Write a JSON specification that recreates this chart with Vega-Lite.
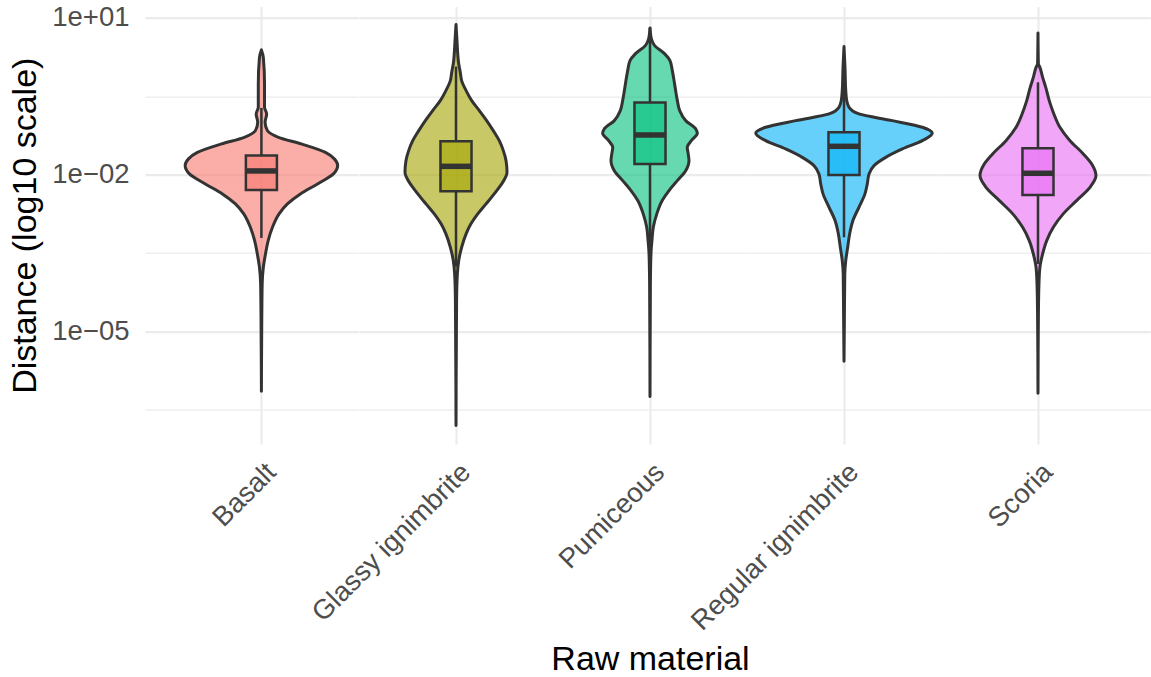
{
  "$schema": "https://vega.github.io/schema/vega-lite/v6.json",
  "background": "white",
  "padding": {"left": 8, "top": 3.6, "right": 0, "bottom": 0},
  "spacing": 0,
  "bounds": "flush",
  "data": {"values": [
    {"m":"Basalt","d":2.44,"lo":0,"hi":0},{"m":"Basalt","d":1.76,"lo":-0.01,"hi":0.01},{"m":"Basalt","d":0.545,"lo":-0.016,"hi":0.016},{"m":"Basalt","d":0.194,"lo":-0.016,"hi":0.016},{"m":"Basalt","d":0.145,"lo":-0.027,"hi":0.027},{"m":"Basalt","d":0.1,"lo":-0.019,"hi":0.019},{"m":"Basalt","d":0.0695,"lo":-0.031,"hi":0.031},{"m":"Basalt","d":0.0518,"lo":-0.088,"hi":0.088},{"m":"Basalt","d":0.0387,"lo":-0.206,"hi":0.206},{"m":"Basalt","d":0.0267,"lo":-0.33,"hi":0.33},{"m":"Basalt","d":0.02,"lo":-0.376,"hi":0.376},{"m":"Basalt","d":0.0149,"lo":-0.393,"hi":0.393},{"m":"Basalt","d":0.0103,"lo":-0.371,"hi":0.371},{"m":"Basalt","d":0.00663,"lo":-0.289,"hi":0.289},{"m":"Basalt","d":0.00427,"lo":-0.201,"hi":0.201},{"m":"Basalt","d":0.00275,"lo":-0.134,"hi":0.134},{"m":"Basalt","d":0.00177,"lo":-0.091,"hi":0.091},{"m":"Basalt","d":0.00098,"lo":-0.057,"hi":0.057},{"m":"Basalt","d":0.000545,"lo":-0.035,"hi":0.035},{"m":"Basalt","d":0.000303,"lo":-0.021,"hi":0.021},{"m":"Basalt","d":0.000168,"lo":-0.01,"hi":0.01},{"m":"Basalt","d":0.0000807,"lo":-0.004,"hi":0.004},{"m":"Basalt","d":0.0000186,"lo":-0.002,"hi":0.002},{"m":"Basalt","d":0.00000071,"lo":0,"hi":0},
    {"m":"Glassy ignimbrite","d":7.44,"lo":0,"hi":0},{"m":"Glassy ignimbrite","d":3.68,"lo":-0.005,"hi":0.005},{"m":"Glassy ignimbrite","d":1.32,"lo":-0.014,"hi":0.014},{"m":"Glassy ignimbrite","d":0.909,"lo":-0.022,"hi":0.022},{"m":"Glassy ignimbrite","d":0.63,"lo":-0.029,"hi":0.029},{"m":"Glassy ignimbrite","d":0.406,"lo":-0.052,"hi":0.052},{"m":"Glassy ignimbrite","d":0.261,"lo":-0.081,"hi":0.081},{"m":"Glassy ignimbrite","d":0.168,"lo":-0.12,"hi":0.12},{"m":"Glassy ignimbrite","d":0.108,"lo":-0.158,"hi":0.158},{"m":"Glassy ignimbrite","d":0.0695,"lo":-0.192,"hi":0.192},{"m":"Glassy ignimbrite","d":0.0447,"lo":-0.223,"hi":0.223},{"m":"Glassy ignimbrite","d":0.0288,"lo":-0.244,"hi":0.244},{"m":"Glassy ignimbrite","d":0.0185,"lo":-0.258,"hi":0.258},{"m":"Glassy ignimbrite","d":0.01106,"lo":-0.263,"hi":0.263},{"m":"Glassy ignimbrite","d":0.00712,"lo":-0.241,"hi":0.241},{"m":"Glassy ignimbrite","d":0.00458,"lo":-0.203,"hi":0.203},{"m":"Glassy ignimbrite","d":0.00275,"lo":-0.155,"hi":0.155},{"m":"Glassy ignimbrite","d":0.00177,"lo":-0.112,"hi":0.112},{"m":"Glassy ignimbrite","d":0.00114,"lo":-0.077,"hi":0.077},{"m":"Glassy ignimbrite","d":0.000732,"lo":-0.052,"hi":0.052},{"m":"Glassy ignimbrite","d":0.000406,"lo":-0.029,"hi":0.029},{"m":"Glassy ignimbrite","d":0.000226,"lo":-0.014,"hi":0.014},{"m":"Glassy ignimbrite","d":0.000125,"lo":-0.007,"hi":0.007},{"m":"Glassy ignimbrite","d":0.0000387,"lo":-0.003,"hi":0.003},{"m":"Glassy ignimbrite","d":0.000000157,"lo":0,"hi":0},
    {"m":"Pumiceous","d":6.43,"lo":0,"hi":0},{"m":"Pumiceous","d":3.96,"lo":-0.007,"hi":0.007},{"m":"Pumiceous","d":2.95,"lo":-0.024,"hi":0.024},{"m":"Pumiceous","d":2.05,"lo":-0.076,"hi":0.076},{"m":"Pumiceous","d":1.52,"lo":-0.103,"hi":0.103},{"m":"Pumiceous","d":0.98,"lo":-0.115,"hi":0.115},{"m":"Pumiceous","d":0.63,"lo":-0.124,"hi":0.124},{"m":"Pumiceous","d":0.406,"lo":-0.132,"hi":0.132},{"m":"Pumiceous","d":0.261,"lo":-0.141,"hi":0.141},{"m":"Pumiceous","d":0.168,"lo":-0.153,"hi":0.153},{"m":"Pumiceous","d":0.108,"lo":-0.184,"hi":0.184},{"m":"Pumiceous","d":0.0748,"lo":-0.236,"hi":0.236},{"m":"Pumiceous","d":0.0618,"lo":-0.244,"hi":0.244},{"m":"Pumiceous","d":0.0447,"lo":-0.213,"hi":0.213},{"m":"Pumiceous","d":0.0333,"lo":-0.192,"hi":0.192},{"m":"Pumiceous","d":0.0249,"lo":-0.197,"hi":0.197},{"m":"Pumiceous","d":0.0185,"lo":-0.201,"hi":0.201},{"m":"Pumiceous","d":0.0119,"lo":-0.184,"hi":0.184},{"m":"Pumiceous","d":0.00767,"lo":-0.141,"hi":0.141},{"m":"Pumiceous","d":0.00493,"lo":-0.098,"hi":0.098},{"m":"Pumiceous","d":0.00318,"lo":-0.063,"hi":0.063},{"m":"Pumiceous","d":0.00177,"lo":-0.035,"hi":0.035},{"m":"Pumiceous","d":0.00098,"lo":-0.017,"hi":0.017},{"m":"Pumiceous","d":0.000545,"lo":-0.01,"hi":0.01},{"m":"Pumiceous","d":0.000303,"lo":-0.005,"hi":0.005},{"m":"Pumiceous","d":0.0000807,"lo":-0.002,"hi":0.002},{"m":"Pumiceous","d":0.000000562,"lo":0,"hi":0},
    {"m":"Regular ignimbrite","d":2.82,"lo":0,"hi":0},{"m":"Regular ignimbrite","d":1.13,"lo":-0.005,"hi":0.005},{"m":"Regular ignimbrite","d":0.406,"lo":-0.009,"hi":0.009},{"m":"Regular ignimbrite","d":0.261,"lo":-0.014,"hi":0.014},{"m":"Regular ignimbrite","d":0.194,"lo":-0.026,"hi":0.026},{"m":"Regular ignimbrite","d":0.145,"lo":-0.077,"hi":0.077},{"m":"Regular ignimbrite","d":0.108,"lo":-0.249,"hi":0.249},{"m":"Regular ignimbrite","d":0.0805,"lo":-0.404,"hi":0.404},{"m":"Regular ignimbrite","d":0.0618,"lo":-0.455,"hi":0.455},{"m":"Regular ignimbrite","d":0.0447,"lo":-0.404,"hi":0.404},{"m":"Regular ignimbrite","d":0.031,"lo":-0.301,"hi":0.301},{"m":"Regular ignimbrite","d":0.0214,"lo":-0.215,"hi":0.215},{"m":"Regular ignimbrite","d":0.0149,"lo":-0.155,"hi":0.155},{"m":"Regular ignimbrite","d":0.0103,"lo":-0.129,"hi":0.129},{"m":"Regular ignimbrite","d":0.00663,"lo":-0.12,"hi":0.12},{"m":"Regular ignimbrite","d":0.00427,"lo":-0.108,"hi":0.108},{"m":"Regular ignimbrite","d":0.00237,"lo":-0.077,"hi":0.077},{"m":"Regular ignimbrite","d":0.00132,"lo":-0.046,"hi":0.046},{"m":"Regular ignimbrite","d":0.000732,"lo":-0.029,"hi":0.029},{"m":"Regular ignimbrite","d":0.000406,"lo":-0.019,"hi":0.019},{"m":"Regular ignimbrite","d":0.000226,"lo":-0.009,"hi":0.009},{"m":"Regular ignimbrite","d":0.000125,"lo":-0.004,"hi":0.004},{"m":"Regular ignimbrite","d":0.0000186,"lo":-0.002,"hi":0.002},{"m":"Regular ignimbrite","d":0.00000266,"lo":0,"hi":0},
    {"m":"Scoria","d":5.16,"lo":0,"hi":0},{"m":"Scoria","d":1.32,"lo":-0.002,"hi":0.002},{"m":"Scoria","d":1.13,"lo":-0.01,"hi":0.01},{"m":"Scoria","d":0.729,"lo":-0.024,"hi":0.024},{"m":"Scoria","d":0.469,"lo":-0.04,"hi":0.04},{"m":"Scoria","d":0.261,"lo":-0.058,"hi":0.058},{"m":"Scoria","d":0.145,"lo":-0.082,"hi":0.082},{"m":"Scoria","d":0.0805,"lo":-0.113,"hi":0.113},{"m":"Scoria","d":0.0447,"lo":-0.165,"hi":0.165},{"m":"Scoria","d":0.0249,"lo":-0.234,"hi":0.234},{"m":"Scoria","d":0.016,"lo":-0.277,"hi":0.277},{"m":"Scoria","d":0.00957,"lo":-0.299,"hi":0.299},{"m":"Scoria","d":0.00571,"lo":-0.268,"hi":0.268},{"m":"Scoria","d":0.00318,"lo":-0.199,"hi":0.199},{"m":"Scoria","d":0.00177,"lo":-0.13,"hi":0.13},{"m":"Scoria","d":0.00098,"lo":-0.079,"hi":0.079},{"m":"Scoria","d":0.000545,"lo":-0.045,"hi":0.045},{"m":"Scoria","d":0.000303,"lo":-0.024,"hi":0.024},{"m":"Scoria","d":0.000168,"lo":-0.01,"hi":0.01},{"m":"Scoria","d":0.0000807,"lo":-0.005,"hi":0.005},{"m":"Scoria","d":0.0000186,"lo":-0.002,"hi":0.002},{"m":"Scoria","d":0.00000065,"lo":0,"hi":0},
    {"m":"Basalt","wlo":0.000613,"q1":0.00509,"med":0.01175,"q3":0.0231,"whi":0.189},
    {"m":"Glassy ignimbrite","wlo":0.000174,"q1":0.00479,"med":0.0144,"q3":0.0434,"whi":1.17},
    {"m":"Pumiceous","wlo":0.0003,"q1":0.016,"med":0.0574,"q3":0.239,"whi":6.43},
    {"m":"Regular ignimbrite","wlo":0.000631,"q1":0.00986,"med":0.0348,"q3":0.0645,"whi":1.0},
    {"m":"Scoria","wlo":0.000195,"q1":0.00408,"med":0.0106,"q3":0.0319,"whi":0.585}
  ]},
  "hconcat": [
    {
      "width": 213.4, "height": 437.3,
      "transform": [{"filter": "datum.m === 'Basalt'"}],
      "layer": [
        {"transform": [{"filter": "isValid(datum.d)"}],
         "mark": {"type": "area", "orient": "horizontal", "interpolate": "monotone", "stroke": "#333333", "strokeWidth": 3, "strokeJoin": "round", "fillOpacity": 0.6},
         "encoding": {
           "y": {"field": "d", "type": "quantitative", "scale": {"type": "log", "domain": [6.99e-8, 16.46], "nice": false, "zero": false},
                 "axis": {"values": [10, 0.316227766, 0.01, 0.000316227766, 0.00001, 3.16227766e-7], "labelExpr": "datum.value == 10 ? '1e+01' : datum.value == 0.01 ? '1e−02' : datum.value == 0.00001 ? '1e−05' : ''", "labelOverlap": false, "labelPadding": 16, "title": "Distance (log10 scale)", "titlePadding": 9.7, "gridWidth": {"condition": {"test": "indexof([10, 0.01, 0.00001], datum.value) >= 0", "value": 2.1}, "value": 1.1}}},
           "x": {"field": "lo", "type": "quantitative", "scale": {"domain": [-0.6, 0.5], "nice": false, "zero": false},
                 "axis": {"values": [0], "labelExpr": "'Basalt'", "labelAngle": -45, "labelAlign": "right", "labelBaseline": "top", "labelPadding": 14, "gridWidth": 2.1, "title": null}},
           "x2": {"field": "hi"},
           "fill": {"field": "m", "type": "nominal", "scale": {"domain": ["Basalt", "Glassy ignimbrite", "Pumiceous", "Regular ignimbrite", "Scoria"], "range": ["#F8766D", "#A3A500", "#00BF7D", "#00B0F6", "#E76BF3"]}, "legend": null}
         }},
        {"transform": [{"filter": "isValid(datum.q1)"}],
         "mark": {"type": "rule", "stroke": "#333333", "strokeWidth": 2.5},
         "encoding": {"x": {"datum": 0, "type": "quantitative"}, "y": {"field": "wlo", "type": "quantitative", "scale": {"type": "log"}}, "y2": {"field": "q1"}}},
        {"transform": [{"filter": "isValid(datum.q1)"}],
         "mark": {"type": "rule", "stroke": "#333333", "strokeWidth": 2.5},
         "encoding": {"x": {"datum": 0, "type": "quantitative"}, "y": {"field": "q3", "type": "quantitative", "scale": {"type": "log"}}, "y2": {"field": "whi"}}},
        {"transform": [{"filter": "isValid(datum.q1)"}],
         "mark": {"type": "rect", "stroke": "#333333", "strokeWidth": 2.5, "fillOpacity": 0.6},
         "encoding": {"x": {"datum": -0.08, "type": "quantitative"}, "x2": {"datum": 0.08}, "y": {"field": "q1", "type": "quantitative", "scale": {"type": "log"}}, "y2": {"field": "q3"},
           "fill": {"field": "m", "type": "nominal", "scale": {"domain": ["Basalt", "Glassy ignimbrite", "Pumiceous", "Regular ignimbrite", "Scoria"], "range": ["#F8766D", "#A3A500", "#00BF7D", "#00B0F6", "#E76BF3"]}, "legend": null}}},
        {"transform": [{"filter": "isValid(datum.q1)"}],
         "mark": {"type": "rule", "stroke": "#333333", "strokeWidth": 5.5},
         "encoding": {"x": {"datum": -0.08, "type": "quantitative"}, "x2": {"datum": 0.08}, "y": {"field": "med", "type": "quantitative", "scale": {"type": "log"}}}}
      ]
    },
    {
      "width": 194, "height": 437.3,
      "transform": [{"filter": "datum.m === 'Glassy ignimbrite'"}],
      "layer": [
        {"transform": [{"filter": "isValid(datum.d)"}],
         "mark": {"type": "area", "orient": "horizontal", "interpolate": "monotone", "stroke": "#333333", "strokeWidth": 3, "strokeJoin": "round", "fillOpacity": 0.6},
         "encoding": {
           "y": {"field": "d", "type": "quantitative", "scale": {"type": "log", "domain": [6.99e-8, 16.46], "nice": false, "zero": false},
                 "axis": {"values": [10, 0.316227766, 0.01, 0.000316227766, 0.00001, 3.16227766e-7], "labels": false, "title": null, "gridWidth": {"condition": {"test": "indexof([10, 0.01, 0.00001], datum.value) >= 0", "value": 2.1}, "value": 1.1}}},
           "x": {"field": "lo", "type": "quantitative", "scale": {"domain": [-0.5, 0.5], "nice": false, "zero": false},
                 "axis": {"values": [0], "labelExpr": "'Glassy ignimbrite'", "labelAngle": -45, "labelAlign": "right", "labelBaseline": "top", "labelPadding": 14, "gridWidth": 2.1, "title": null}},
           "x2": {"field": "hi"},
           "fill": {"field": "m", "type": "nominal", "scale": {"domain": ["Basalt", "Glassy ignimbrite", "Pumiceous", "Regular ignimbrite", "Scoria"], "range": ["#F8766D", "#A3A500", "#00BF7D", "#00B0F6", "#E76BF3"]}, "legend": null}
         }},
        {"transform": [{"filter": "isValid(datum.q1)"}],
         "mark": {"type": "rule", "stroke": "#333333", "strokeWidth": 2.5},
         "encoding": {"x": {"datum": 0, "type": "quantitative"}, "y": {"field": "wlo", "type": "quantitative", "scale": {"type": "log"}}, "y2": {"field": "q1"}}},
        {"transform": [{"filter": "isValid(datum.q1)"}],
         "mark": {"type": "rule", "stroke": "#333333", "strokeWidth": 2.5},
         "encoding": {"x": {"datum": 0, "type": "quantitative"}, "y": {"field": "q3", "type": "quantitative", "scale": {"type": "log"}}, "y2": {"field": "whi"}}},
        {"transform": [{"filter": "isValid(datum.q1)"}],
         "mark": {"type": "rect", "stroke": "#333333", "strokeWidth": 2.5, "fillOpacity": 0.6},
         "encoding": {"x": {"datum": -0.08, "type": "quantitative"}, "x2": {"datum": 0.08}, "y": {"field": "q1", "type": "quantitative", "scale": {"type": "log"}}, "y2": {"field": "q3"},
           "fill": {"field": "m", "type": "nominal", "scale": {"domain": ["Basalt", "Glassy ignimbrite", "Pumiceous", "Regular ignimbrite", "Scoria"], "range": ["#F8766D", "#A3A500", "#00BF7D", "#00B0F6", "#E76BF3"]}, "legend": null}}},
        {"transform": [{"filter": "isValid(datum.q1)"}],
         "mark": {"type": "rule", "stroke": "#333333", "strokeWidth": 5.5},
         "encoding": {"x": {"datum": -0.08, "type": "quantitative"}, "x2": {"datum": 0.08}, "y": {"field": "med", "type": "quantitative", "scale": {"type": "log"}}}}
      ]
    },
    {
      "width": 194, "height": 437.3,
      "transform": [{"filter": "datum.m === 'Pumiceous'"}],
      "layer": [
        {"transform": [{"filter": "isValid(datum.d)"}],
         "mark": {"type": "area", "orient": "horizontal", "interpolate": "monotone", "stroke": "#333333", "strokeWidth": 3, "strokeJoin": "round", "fillOpacity": 0.6},
         "encoding": {
           "y": {"field": "d", "type": "quantitative", "scale": {"type": "log", "domain": [6.99e-8, 16.46], "nice": false, "zero": false},
                 "axis": {"values": [10, 0.316227766, 0.01, 0.000316227766, 0.00001, 3.16227766e-7], "labels": false, "title": null, "gridWidth": {"condition": {"test": "indexof([10, 0.01, 0.00001], datum.value) >= 0", "value": 2.1}, "value": 1.1}}},
           "x": {"field": "lo", "type": "quantitative", "scale": {"domain": [-0.5, 0.5], "nice": false, "zero": false},
                 "axis": {"values": [0], "labelExpr": "'Pumiceous'", "labelAngle": -45, "labelAlign": "right", "labelBaseline": "top", "labelPadding": 14, "gridWidth": 2.1, "title": "Raw material", "titlePadding": 69}},
           "x2": {"field": "hi"},
           "fill": {"field": "m", "type": "nominal", "scale": {"domain": ["Basalt", "Glassy ignimbrite", "Pumiceous", "Regular ignimbrite", "Scoria"], "range": ["#F8766D", "#A3A500", "#00BF7D", "#00B0F6", "#E76BF3"]}, "legend": null}
         }},
        {"transform": [{"filter": "isValid(datum.q1)"}],
         "mark": {"type": "rule", "stroke": "#333333", "strokeWidth": 2.5},
         "encoding": {"x": {"datum": 0, "type": "quantitative"}, "y": {"field": "wlo", "type": "quantitative", "scale": {"type": "log"}}, "y2": {"field": "q1"}}},
        {"transform": [{"filter": "isValid(datum.q1)"}],
         "mark": {"type": "rule", "stroke": "#333333", "strokeWidth": 2.5},
         "encoding": {"x": {"datum": 0, "type": "quantitative"}, "y": {"field": "q3", "type": "quantitative", "scale": {"type": "log"}}, "y2": {"field": "whi"}}},
        {"transform": [{"filter": "isValid(datum.q1)"}],
         "mark": {"type": "rect", "stroke": "#333333", "strokeWidth": 2.5, "fillOpacity": 0.6},
         "encoding": {"x": {"datum": -0.08, "type": "quantitative"}, "x2": {"datum": 0.08}, "y": {"field": "q1", "type": "quantitative", "scale": {"type": "log"}}, "y2": {"field": "q3"},
           "fill": {"field": "m", "type": "nominal", "scale": {"domain": ["Basalt", "Glassy ignimbrite", "Pumiceous", "Regular ignimbrite", "Scoria"], "range": ["#F8766D", "#A3A500", "#00BF7D", "#00B0F6", "#E76BF3"]}, "legend": null}}},
        {"transform": [{"filter": "isValid(datum.q1)"}],
         "mark": {"type": "rule", "stroke": "#333333", "strokeWidth": 5.5},
         "encoding": {"x": {"datum": -0.08, "type": "quantitative"}, "x2": {"datum": 0.08}, "y": {"field": "med", "type": "quantitative", "scale": {"type": "log"}}}}
      ]
    },
    {
      "width": 194, "height": 437.3,
      "transform": [{"filter": "datum.m === 'Regular ignimbrite'"}],
      "layer": [
        {"transform": [{"filter": "isValid(datum.d)"}],
         "mark": {"type": "area", "orient": "horizontal", "interpolate": "monotone", "stroke": "#333333", "strokeWidth": 3, "strokeJoin": "round", "fillOpacity": 0.6},
         "encoding": {
           "y": {"field": "d", "type": "quantitative", "scale": {"type": "log", "domain": [6.99e-8, 16.46], "nice": false, "zero": false},
                 "axis": {"values": [10, 0.316227766, 0.01, 0.000316227766, 0.00001, 3.16227766e-7], "labels": false, "title": null, "gridWidth": {"condition": {"test": "indexof([10, 0.01, 0.00001], datum.value) >= 0", "value": 2.1}, "value": 1.1}}},
           "x": {"field": "lo", "type": "quantitative", "scale": {"domain": [-0.5, 0.5], "nice": false, "zero": false},
                 "axis": {"values": [0], "labelExpr": "'Regular ignimbrite'", "labelAngle": -45, "labelAlign": "right", "labelBaseline": "top", "labelPadding": 14, "gridWidth": 2.1, "title": null}},
           "x2": {"field": "hi"},
           "fill": {"field": "m", "type": "nominal", "scale": {"domain": ["Basalt", "Glassy ignimbrite", "Pumiceous", "Regular ignimbrite", "Scoria"], "range": ["#F8766D", "#A3A500", "#00BF7D", "#00B0F6", "#E76BF3"]}, "legend": null}
         }},
        {"transform": [{"filter": "isValid(datum.q1)"}],
         "mark": {"type": "rule", "stroke": "#333333", "strokeWidth": 2.5},
         "encoding": {"x": {"datum": 0, "type": "quantitative"}, "y": {"field": "wlo", "type": "quantitative", "scale": {"type": "log"}}, "y2": {"field": "q1"}}},
        {"transform": [{"filter": "isValid(datum.q1)"}],
         "mark": {"type": "rule", "stroke": "#333333", "strokeWidth": 2.5},
         "encoding": {"x": {"datum": 0, "type": "quantitative"}, "y": {"field": "q3", "type": "quantitative", "scale": {"type": "log"}}, "y2": {"field": "whi"}}},
        {"transform": [{"filter": "isValid(datum.q1)"}],
         "mark": {"type": "rect", "stroke": "#333333", "strokeWidth": 2.5, "fillOpacity": 0.6},
         "encoding": {"x": {"datum": -0.08, "type": "quantitative"}, "x2": {"datum": 0.08}, "y": {"field": "q1", "type": "quantitative", "scale": {"type": "log"}}, "y2": {"field": "q3"},
           "fill": {"field": "m", "type": "nominal", "scale": {"domain": ["Basalt", "Glassy ignimbrite", "Pumiceous", "Regular ignimbrite", "Scoria"], "range": ["#F8766D", "#A3A500", "#00BF7D", "#00B0F6", "#E76BF3"]}, "legend": null}}},
        {"transform": [{"filter": "isValid(datum.q1)"}],
         "mark": {"type": "rule", "stroke": "#333333", "strokeWidth": 5.5},
         "encoding": {"x": {"datum": -0.08, "type": "quantitative"}, "x2": {"datum": 0.08}, "y": {"field": "med", "type": "quantitative", "scale": {"type": "log"}}}}
      ]
    },
    {
      "width": 209.3, "height": 437.3,
      "transform": [{"filter": "datum.m === 'Scoria'"}],
      "layer": [
        {"transform": [{"filter": "isValid(datum.d)"}],
         "mark": {"type": "area", "orient": "horizontal", "interpolate": "monotone", "stroke": "#333333", "strokeWidth": 3, "strokeJoin": "round", "fillOpacity": 0.6},
         "encoding": {
           "y": {"field": "d", "type": "quantitative", "scale": {"type": "log", "domain": [6.99e-8, 16.46], "nice": false, "zero": false},
                 "axis": {"values": [10, 0.316227766, 0.01, 0.000316227766, 0.00001, 3.16227766e-7], "labels": false, "title": null, "gridWidth": {"condition": {"test": "indexof([10, 0.01, 0.00001], datum.value) >= 0", "value": 2.1}, "value": 1.1}}},
           "x": {"field": "lo", "type": "quantitative", "scale": {"domain": [-0.5, 0.579], "nice": false, "zero": false},
                 "axis": {"values": [0], "labelExpr": "'Scoria'", "labelAngle": -45, "labelAlign": "right", "labelBaseline": "top", "labelPadding": 14, "gridWidth": 2.1, "title": null}},
           "x2": {"field": "hi"},
           "fill": {"field": "m", "type": "nominal", "scale": {"domain": ["Basalt", "Glassy ignimbrite", "Pumiceous", "Regular ignimbrite", "Scoria"], "range": ["#F8766D", "#A3A500", "#00BF7D", "#00B0F6", "#E76BF3"]}, "legend": null}
         }},
        {"transform": [{"filter": "isValid(datum.q1)"}],
         "mark": {"type": "rule", "stroke": "#333333", "strokeWidth": 2.5},
         "encoding": {"x": {"datum": 0, "type": "quantitative"}, "y": {"field": "wlo", "type": "quantitative", "scale": {"type": "log"}}, "y2": {"field": "q1"}}},
        {"transform": [{"filter": "isValid(datum.q1)"}],
         "mark": {"type": "rule", "stroke": "#333333", "strokeWidth": 2.5},
         "encoding": {"x": {"datum": 0, "type": "quantitative"}, "y": {"field": "q3", "type": "quantitative", "scale": {"type": "log"}}, "y2": {"field": "whi"}}},
        {"transform": [{"filter": "isValid(datum.q1)"}],
         "mark": {"type": "rect", "stroke": "#333333", "strokeWidth": 2.5, "fillOpacity": 0.6},
         "encoding": {"x": {"datum": -0.08, "type": "quantitative"}, "x2": {"datum": 0.08}, "y": {"field": "q1", "type": "quantitative", "scale": {"type": "log"}}, "y2": {"field": "q3"},
           "fill": {"field": "m", "type": "nominal", "scale": {"domain": ["Basalt", "Glassy ignimbrite", "Pumiceous", "Regular ignimbrite", "Scoria"], "range": ["#F8766D", "#A3A500", "#00BF7D", "#00B0F6", "#E76BF3"]}, "legend": null}}},
        {"transform": [{"filter": "isValid(datum.q1)"}],
         "mark": {"type": "rule", "stroke": "#333333", "strokeWidth": 5.5},
         "encoding": {"x": {"datum": -0.08, "type": "quantitative"}, "x2": {"datum": 0.08}, "y": {"field": "med", "type": "quantitative", "scale": {"type": "log"}}}}
      ]
    }
  ],
  "config": {
    "view": {"stroke": null},
    "concat": {"spacing": 0},
    "axis": {"domain": false, "ticks": false, "tickSize": 0, "gridColor": "#EBEBEB", "labelFont": "Liberation Sans", "labelFontSize": 27.5, "labelLimit": 0, "labelColor": "#4D4D4D", "titleFont": "Liberation Sans", "titleFontSize": 34, "titleFontWeight": "normal", "titleColor": "#000000"}
  }
}
